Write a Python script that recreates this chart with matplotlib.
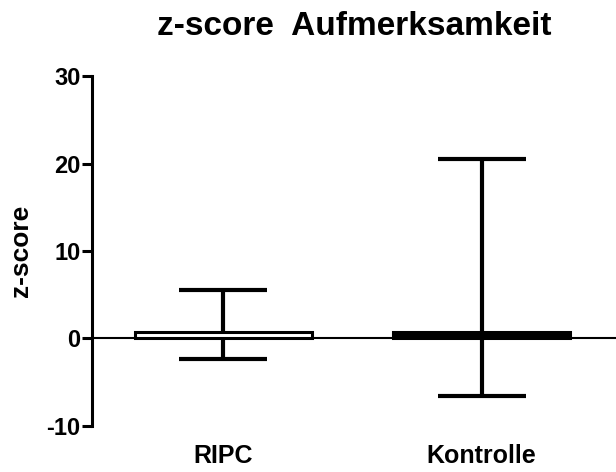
import numpy as np
import matplotlib as mpl

mpl.use("Agg")
import matplotlib.pyplot as plt  # noqa

groups = ["RIPC", "Kontrolle"]
means = [0.75, 0.75]
err_lo = [-2.35, -6.6]
err_hi = [5.5, 20.6]
fills = ["white", "black"]

plt.rcParams['font.family'] = ['Liberation Sans', 'DejaVu Sans']
plt.rcParams['font.weight'] = 'bold'
plt.rcParams['axes.unicode_minus'] = False

fig = plt.figure(figsize=(6.16, 4.72), dpi=100)
ax = fig.add_axes([0.149, 0.098, 0.851, 0.740])

x = np.arange(len(groups))
means = np.array(means)
lo = means - np.array(err_lo)
hi = np.array(err_hi) - means

ax.axhline(0, color='black', lw=1.5, zorder=1)
eb = ax.errorbar(x, means, yerr=[lo, hi], fmt='none', ecolor='black',
                 elinewidth=3, capsize=32, capthick=3, zorder=2)
eb[2][0].set_capstyle('round')
ax.bar(x, means, width=0.686, color=fills, edgecolor='black', linewidth=2.2, zorder=3)

ax.set_xlim(-0.51, 1.52)
ax.set_ylim(-10, 30)
ax.set_yticks([-10, 0, 10, 20, 30])
ax.set_xticks([])
for s in ['top', 'right', 'bottom']:
    ax.spines[s].set_visible(False)
ax.spines['left'].set_linewidth(2.2)
ax.tick_params(axis='y', width=2.2, length=7, labelsize=17, pad=1)
for lab in ax.get_yticklabels():
    lab.set_fontweight('bold')

for xi, g in zip(x, groups):
    ax.text(xi, -0.107, g, transform=ax.get_xaxis_transform(), ha='center',
            va='baseline', fontsize=18, fontweight='bold')

ax.set_ylabel('z-score', fontsize=19, fontweight='bold', labelpad=10)
ax.set_title('z-score  Aufmerksamkeit', fontsize=24, fontweight='bold', pad=30)

fig.savefig('out.png', dpi=100)
